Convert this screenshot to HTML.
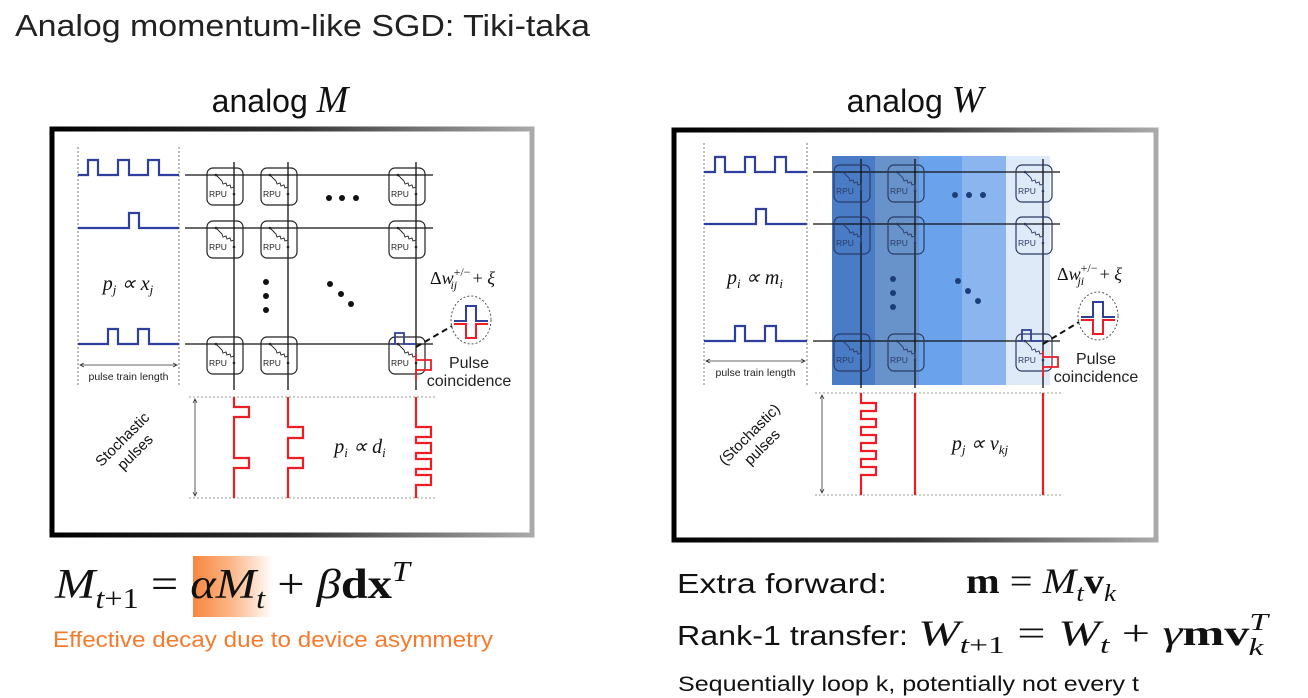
<!DOCTYPE html>
<html><head><meta charset="utf-8">
<style>
html,body{margin:0;padding:0;background:#fff;}
svg{display:block;}
.sans{font-family:"Liberation Sans",sans-serif;}
.serif{font-family:"Liberation Serif",serif;}
</style></head>
<body>
<svg id="svg" width="1308" height="698" viewBox="0 0 1308 698" xmlns="http://www.w3.org/2000/svg">
<defs>
<linearGradient id="frameG" x1="0" y1="0" x2="1" y2="0">
<stop offset="0" stop-color="#000"/><stop offset="0.5" stop-color="#333"/><stop offset="1" stop-color="#aaa"/>
</linearGradient>
<linearGradient id="hiG" x1="0" y1="0" x2="1" y2="0">
<stop offset="0" stop-color="#f7863f"/><stop offset="0.5" stop-color="#fbb98c"/><stop offset="1" stop-color="#ffffff"/>
</linearGradient>
</defs>
<text x="15" y="36" class="sans" font-size="31" fill="#222" textLength="575" lengthAdjust="spacingAndGlyphs">Analog momentum-like SGD: Tiki-taka</text>
<text x="280" y="112" text-anchor="middle" class="sans" font-size="32" fill="#111">analog <tspan class="serif" font-style="italic" font-size="38">M</tspan></text>
<text x="915" y="112" text-anchor="middle" class="sans" font-size="32" fill="#111">analog <tspan class="serif" font-style="italic" font-size="38">W</tspan></text>
<rect x="52" y="129" width="480" height="406" fill="#fff" stroke="url(#frameG)" stroke-width="5"/>
<rect x="674" y="130" width="482" height="410" fill="#fff" stroke="url(#frameG)" stroke-width="5"/>
<g id="bands"></g>
<g id="left"></g>
<g id="right"></g>

<rect x="193" y="556" width="80" height="61" fill="url(#hiG)"/>
<text x="55" y="598" class="serif" font-size="42" fill="#111" textLength="355" lengthAdjust="spacingAndGlyphs"><tspan font-style="italic">M</tspan><tspan font-size="28" dy="10" font-style="italic">t</tspan><tspan font-size="28">+1</tspan><tspan dy="-10"> = </tspan><tspan font-style="italic">αM</tspan><tspan font-size="28" dy="10" font-style="italic">t</tspan><tspan dy="-10"> + </tspan><tspan font-style="italic">β</tspan><tspan font-weight="bold">dx</tspan><tspan font-size="28" dy="-17" font-style="italic">T</tspan></text>
<text x="53" y="647" class="sans" font-size="22" fill="#f57a2c" textLength="440" lengthAdjust="spacingAndGlyphs">Effective decay due to device asymmetry</text>

<text x="677" y="593" class="sans" font-size="28" fill="#111" textLength="210" lengthAdjust="spacingAndGlyphs">Extra forward:</text>
<text x="966" y="593" class="serif" font-size="36" fill="#111" textLength="150" lengthAdjust="spacingAndGlyphs"><tspan font-weight="bold">m</tspan> = <tspan font-style="italic">M</tspan><tspan font-size="24" dy="8" font-style="italic">t</tspan><tspan font-weight="bold" dy="-8">v</tspan><tspan font-size="24" dy="8" font-style="italic">k</tspan></text>
<text x="677" y="645" class="sans" font-size="28" fill="#111" textLength="231" lengthAdjust="spacingAndGlyphs">Rank-1 transfer:</text>
<text x="918" y="645" class="serif" font-size="36" fill="#111" textLength="350" lengthAdjust="spacingAndGlyphs"><tspan font-style="italic">W</tspan><tspan font-size="24" dy="8" font-style="italic">t</tspan><tspan font-size="24">+1</tspan><tspan dy="-8"> = </tspan><tspan font-style="italic">W</tspan><tspan font-size="24" dy="8" font-style="italic">t</tspan><tspan dy="-8"> + </tspan><tspan font-style="italic">γ</tspan><tspan font-weight="bold">mv</tspan><tspan font-size="24" dy="-15" font-style="italic">T</tspan><tspan font-size="24" dx="-14" dy="25" font-style="italic">k</tspan></text>
<text x="678" y="691" class="sans" font-size="21" fill="#111" textLength="461" lengthAdjust="spacingAndGlyphs">Sequentially loop k, potentially not every t</text>
</svg>
<script>
const NS="http://www.w3.org/2000/svg";
function mk(parent,tag,attrs){const e=document.createElementNS(NS,tag);for(const k in attrs)e.setAttribute(k,attrs[k]);parent.appendChild(e);return e;}
function pulseH(y,x0,x1,ps,h){let d="M"+x0+" "+y;ps.forEach(p=>{d+=" H"+p[0]+" V"+(y-h)+" H"+p[1]+" V"+y;});return d+" H"+x1;}
function pulseV(x,y0,y1,ps,w){let d="M"+x+" "+y0;ps.forEach(p=>{d+=" V"+p[0]+" H"+(x+w)+" V"+p[1]+" H"+x;});return d+" V"+y1;}

const bandEdges=[832,875,919,962,1006,1050];
const bandColors=["#4a7cc6","#6893ca","#6aa3ec","#8ab5ef","#dfeaf9"];
const bg=document.getElementById('bands');
for(let i=0;i<5;i++){const r=mk(bg,'rect',{x:bandEdges[i],y:156,width:bandEdges[i+1]-bandEdges[i],height:229,fill:bandColors[i]});

}

function panel(g,o){
  [o.dl,o.dr].forEach(x=>{const l=mk(g,'line',{x1:x,y1:o.gy0,x2:x,y2:o.gy1,stroke:'#777','stroke-dasharray':'2 2','stroke-width':1});
  
  });
  o.rows.forEach((y,i)=>{const p=mk(g,'path',{d:pulseH(y,o.dl,o.dr,o.rowPulses[i],15),fill:'none',stroke:'#2f3fa0','stroke-width':2.2});
  
  
  const w=mk(g,'line',{x1:o.dr+6,y1:y,x2:o.wx1,y2:y,stroke:'#111','stroke-width':1.2});
  
  });
  o.cols.forEach(x=>{const v=mk(g,'line',{x1:x,y1:o.rows[0]-13,x2:x,y2:o.vy1,stroke:'#111','stroke-width':1.3});
  
  });
  o.rows.forEach(y=>{o.cols.forEach(x=>{
    const c=mk(g,'g',{});
    
    
    mk(c,'rect',{x:x-27,y:y-7,width:36,height:37,rx:6,fill:'none',stroke:o.boxStroke,'stroke-width':1.2});
    let d="M"+(x-18)+" "+(y)+" L"+(x-12)+" "+(y+6);
    for(let k=0;k<6;k++){d+=" l"+(k%2?3:1)+" "+(k%2?-1:3);}
    d+=" L"+x+" "+(y+19);
    mk(c,'path',{d:d,fill:'none',stroke:o.boxStroke,'stroke-width':0.9});
    mk(c,'circle',{cx:x-18,cy:y,r:1.3,fill:o.boxStroke});
    mk(c,'circle',{cx:x,cy:y+19,r:1.3,fill:o.boxStroke});
    const t=mk(c,'text',{x:x-25,y:y+22,'font-size':8.5,fill:o.boxStroke,class:'sans'});t.textContent='RPU';
  });});
  o.dots.forEach(p=>{const c=mk(g,'circle',{cx:p[0],cy:p[1],r:3,fill:o.dotFill});
  
  });
  const a=mk(g,'path',{d:"M"+(o.dl+2)+" "+o.arrY+" H"+(o.dr-2)+" M"+(o.dl+6)+" "+(o.arrY-2)+" L"+(o.dl+2)+" "+o.arrY+" L"+(o.dl+6)+" "+(o.arrY+2)+" M"+(o.dr-6)+" "+(o.arrY-2)+" L"+(o.dr-2)+" "+o.arrY+" L"+(o.dr-6)+" "+(o.arrY+2),fill:'none',stroke:'#333','stroke-width':0.8});
  
  
  const at=mk(g,'text',{x:(o.dl+o.dr)/2,y:o.arrY+15,'text-anchor':'middle','font-size':10.5,fill:'#222',class:'sans'});at.textContent='pulse train length';
  
  
  [o.by0,o.by1].forEach(y=>{const l=mk(g,'line',{x1:o.bx0,y1:y,x2:o.bx1,y2:y,stroke:'#999','stroke-dasharray':'2 2'});
  
  });
  const va=mk(g,'path',{d:"M"+o.bax+" "+(o.by0+2)+" V"+(o.by1-2)+" M"+(o.bax-2)+" "+(o.by0+6)+" L"+o.bax+" "+(o.by0+2)+" L"+(o.bax+2)+" "+(o.by0+6)+" M"+(o.bax-2)+" "+(o.by1-6)+" L"+o.bax+" "+(o.by1-2)+" L"+(o.bax+2)+" "+(o.by1-6),fill:'none',stroke:'#333','stroke-width':0.8});
  
  
  o.cols.forEach((x,i)=>{const p=mk(g,'path',{d:pulseV(x,o.by0,o.by1,o.colPulses[i],15),fill:'none',stroke:'#ee1c25','stroke-width':2.2});
  
  });
  const cx=o.cols[2], cy=o.rows[2];
  const bp=mk(g,'path',{d:"M"+(cx-25)+" "+cy+" H"+(cx-21)+" V"+(cy-11)+" H"+(cx-12)+" V"+cy+" H"+cx,fill:'none',stroke:'#2f3fa0','stroke-width':1.8});
  
  
  const rp=mk(g,'path',{d:"M"+cx+" "+(cy+10)+" V"+(cy+16)+" H"+(cx+15)+" V"+(cy+26)+" H"+cx+" V"+(cy+36),fill:'none',stroke:'#ee1c25','stroke-width':1.8});
  
  
  const dl=mk(g,'line',{x1:cx,y1:cy+3,x2:o.ex-19,y2:o.ey+6,stroke:'#111','stroke-width':2,'stroke-dasharray':'6 4'});
  
  
  const el=mk(g,'ellipse',{cx:o.ex,cy:o.ey,rx:20,ry:24,fill:'none',stroke:'#555','stroke-dasharray':'2 2'});
  
  
  mk(g,'path',{d:"M"+(o.ex-17)+" "+(o.ey+1)+" H"+(o.ex-5)+" V"+(o.ey-14)+" H"+(o.ex+5)+" V"+(o.ey+1)+" H"+(o.ex+17),fill:'none',stroke:'#2f3fa0','stroke-width':2});
  mk(g,'path',{d:"M"+(o.ex-17)+" "+(o.ey+4)+" H"+(o.ex-5)+" V"+(o.ey+18)+" H"+(o.ex+5)+" V"+(o.ey+4)+" H"+(o.ex+17),fill:'none',stroke:'#ee1c25','stroke-width':2});
  const t1=mk(g,'text',{x:o.ex-2,y:o.ey+48,'text-anchor':'middle','font-size':16,fill:'#222',class:'sans'});t1.textContent='Pulse';
  
  
  const t2=mk(g,'text',{x:o.ex-2,y:o.ey+66,'text-anchor':'middle','font-size':16,fill:'#222',class:'sans'});t2.textContent='coincidence';
  const dt=mk(g,'text',{x:o.ex-41,y:o.ey-36,'font-size':18,fill:'#111',class:'serif'});
  dt.innerHTML='Δ<tspan font-style="italic">w</tspan><tspan font-size="12" dy="-8">+/−</tspan><tspan font-size="12" dx="-20" dy="13" font-style="italic">'+o.sub+'</tspan><tspan dy="-5" dx="11"> + </tspan><tspan font-style="italic">ξ</tspan>';
  
  
  const pl=mk(g,'text',{x:o.pl[0],y:o.pl[1],'text-anchor':'middle','font-size':20,fill:'#111',class:'serif','font-style':'italic'});pl.innerHTML=o.plText;
  
  
  const pb=mk(g,'text',{x:o.pb[0],y:o.pb[1],'text-anchor':'middle','font-size':20,fill:'#111',class:'serif','font-style':'italic'});pb.innerHTML=o.pbText;
  
  
  const sp=mk(g,'text',{x:0,y:0,'text-anchor':'middle','font-size':15,fill:'#111',class:'sans',transform:'translate('+o.sp[0]+','+o.sp[1]+') rotate(-45)'});
  sp.innerHTML='<tspan x="0" dy="-3">'+o.spText+'</tspan><tspan x="0" dy="18">pulses</tspan>';
  
  
}

panel(document.getElementById('left'),{
  dl:78,dr:179,gy0:147,gy1:387,rows:[175,228,344],
  rowPulses:[[[88,98],[118,129],[148,159]],[[129,139]],[[108,118],[138,149]]],
  wx1:433,cols:[234,288,416],vy1:390,boxStroke:'#222',dotFill:'#111',
  dots:[[329,198],[342,198],[356,198],[266,282],[266,296],[266,310],[330,284],[341,294],[351,304]],
  arrY:365,by0:397,by1:498,bx0:189,bx1:435,bax:195,
  colPulses:[[[407,417],[458,468]],[[427,438],[458,468]],[[427,437],[443,453],[459,469],[475,485]]],
  ex:471,ey:320,sub:'ij',pl:[128,290],plText:'p<tspan font-size="13" dy="4">j</tspan><tspan dy="-4"> ∝ x</tspan><tspan font-size="13" dy="4">j</tspan>',
  pb:[360,453],pbText:'p<tspan font-size="13" dy="4">i</tspan><tspan dy="-4"> ∝ d</tspan><tspan font-size="13" dy="4">i</tspan>',
  sp:[128,445],spText:'Stochastic'
});
panel(document.getElementById('right'),{
  dl:704,dr:807,gy0:143,gy1:385,rows:[172,224,341],
  rowPulses:[[[715,725],[745,755],[775,786]],[[756,766]],[[735,745],[765,776]]],
  wx1:1060,cols:[861,915,1043],vy1:388,boxStroke:'#2a3a66',dotFill:'#1d3d77',
  dots:[[955,195],[969,195],[983,195],[893,279],[893,293],[893,307],[958,281],[968,291],[978,301]],
  arrY:361,by0:393,by1:495,bx0:815,bx1:1063,bax:822,
  colPulses:[[[403,411],[419,427],[435,443],[451,459],[467,475]],[],[]],
  ex:1098,ey:316,sub:'ji',pl:[755,284],plText:'p<tspan font-size="13" dy="4">i</tspan><tspan dy="-4"> ∝ m</tspan><tspan font-size="13" dy="4">i</tspan>',
  pb:[980,450],pbText:'p<tspan font-size="13" dy="4">j</tspan><tspan dy="-4"> ∝ v</tspan><tspan font-size="13" dy="4">kj</tspan>',
  sp:[755,440],spText:'(Stochastic)'
});
</script>
</body></html>
